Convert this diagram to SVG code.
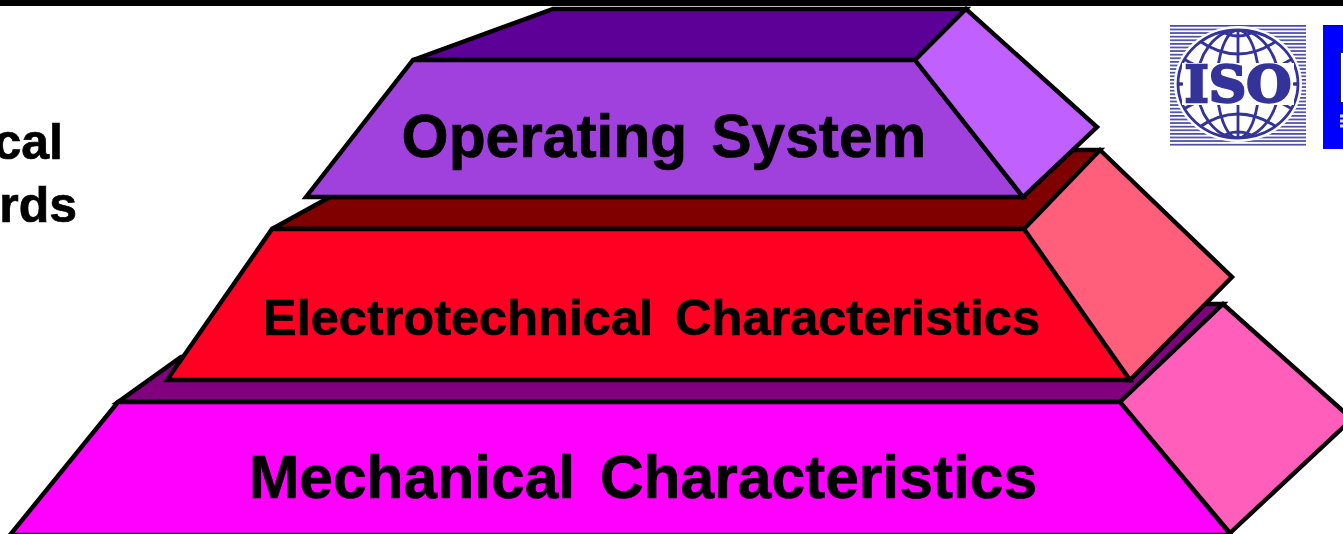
<svg xmlns="http://www.w3.org/2000/svg" width="1343" height="534" viewBox="0 0 1343 534">
<style>
.s{stroke:#000;stroke-width:4.4;stroke-linejoin:miter}
text{font-family:"Liberation Sans",Arial,sans-serif;font-weight:700;fill:#000}
.b{stroke:#000;stroke-width:.7}
.g{fill:none;stroke:#333399;stroke-width:2.8}
</style>
<defs>
<pattern id="stripes" width="8" height="3.6" patternUnits="userSpaceOnUse" patternTransform="translate(0 25)"><rect width="8" height="1.7" fill="#4a4aa4"/></pattern>
<clipPath id="globe"><ellipse cx="1238" cy="84" rx="60" ry="54"/></clipPath>
</defs>
<rect width="1343" height="534" fill="#fff"/>
<rect id="top-bar" width="1343" height="6" fill="#000"/>
<g id="side-label">
<text class="b" x="63" y="159" text-anchor="end" font-size="50">cal</text>
<text class="b" x="77" y="222" text-anchor="end" font-size="50">rds</text>
</g>
<g id="mechanical">
<polygon class="s" points="118,402 181,357 1130,380 1205,304 1223,304 1120,402" fill="#800080"/>
<polygon class="s" points="118,402 1120,402 1231,535 10,535" fill="#ff00ff"/>
<polygon class="s" points="1120,402 1223,304 1352,419 1230,533" fill="#ff5fbb"/>
<text class="b" x="643" y="498" text-anchor="middle" font-size="60.5" word-spacing="8">Mechanical Characteristics</text>
</g>
<g id="electrotechnical">
<polygon class="s" points="272,229 330,197 1023,197 1073,150 1100,150 1024,229" fill="#800000"/>
<polygon class="s" points="272,229 1024,229 1130,380 167,380" fill="#ff0022"/>
<polygon class="s" points="1024,229 1100,150 1232,277 1130,380" fill="#ff5f7a"/>
<text class="b" x="651.5" y="335" text-anchor="middle" font-size="50.5" word-spacing="8">Electrotechnical Characteristics</text>
</g>
<g id="operating-system">
<polygon class="s" points="413,60 553,9 966,9 915,60" fill="#5c0097"/>
<polygon class="s" points="413,60 915,60 1023,197 306,197" fill="#a040dd"/>
<polygon class="s" points="915,60 966,9 1097,127 1023,197" fill="#bf60ff"/>
<text class="b" x="664" y="157" text-anchor="middle" font-size="60.5" word-spacing="7">Operating System</text>
</g>
<g id="iso-logo">
<rect x="1170" y="25" width="136" height="121" fill="url(#stripes)"/>
<ellipse cx="1238" cy="84" rx="64" ry="58" fill="#fff"/>
<g clip-path="url(#globe)">
<ellipse class="g" cx="1238" cy="84" rx="21" ry="54"/>
<ellipse class="g" cx="1238" cy="84" rx="41" ry="54"/>
<path class="g" d="M1238 30V138M1178 84H1298"/>
<path class="g" d="M1198 40Q1238 68 1278 40M1198 128Q1238 100 1278 128M1182 58Q1238 92 1294 58M1182 110Q1238 76 1294 110"/>
<ellipse class="g" cx="1238" cy="31" rx="14" ry="5" fill="#fff"/>
<ellipse class="g" cx="1238" cy="137" rx="14" ry="5" fill="#fff"/>
</g>
<ellipse class="g" cx="1238" cy="84" rx="60" ry="54"/>
<rect x="1182" y="63" width="112" height="42" fill="#fff"/>
<path class="g" d="M1177 84H1183M1293 84H1299"/>
<text x="1238" y="102" text-anchor="middle" font-size="50" textLength="107" lengthAdjust="spacingAndGlyphs" style="font-family:'DejaVu Serif',serif;font-weight:700;fill:#333399;stroke:#333399;stroke-width:2.4">ISO</text>
</g>
<g id="blue-logo">
<rect x="1323" y="25" width="20" height="124" fill="#0000ff"/>
<rect x="1323" y="25" width="20" height="1" fill="#112"/>
<rect x="1340.5" y="52.5" width="4" height="50" fill="#fff" stroke="#223" stroke-width="1"/>
<path d="M1340 116H1343M1340 121H1343M1340 126H1343" stroke="#d8d8e8" stroke-width="3"/>
</g>
</svg>
